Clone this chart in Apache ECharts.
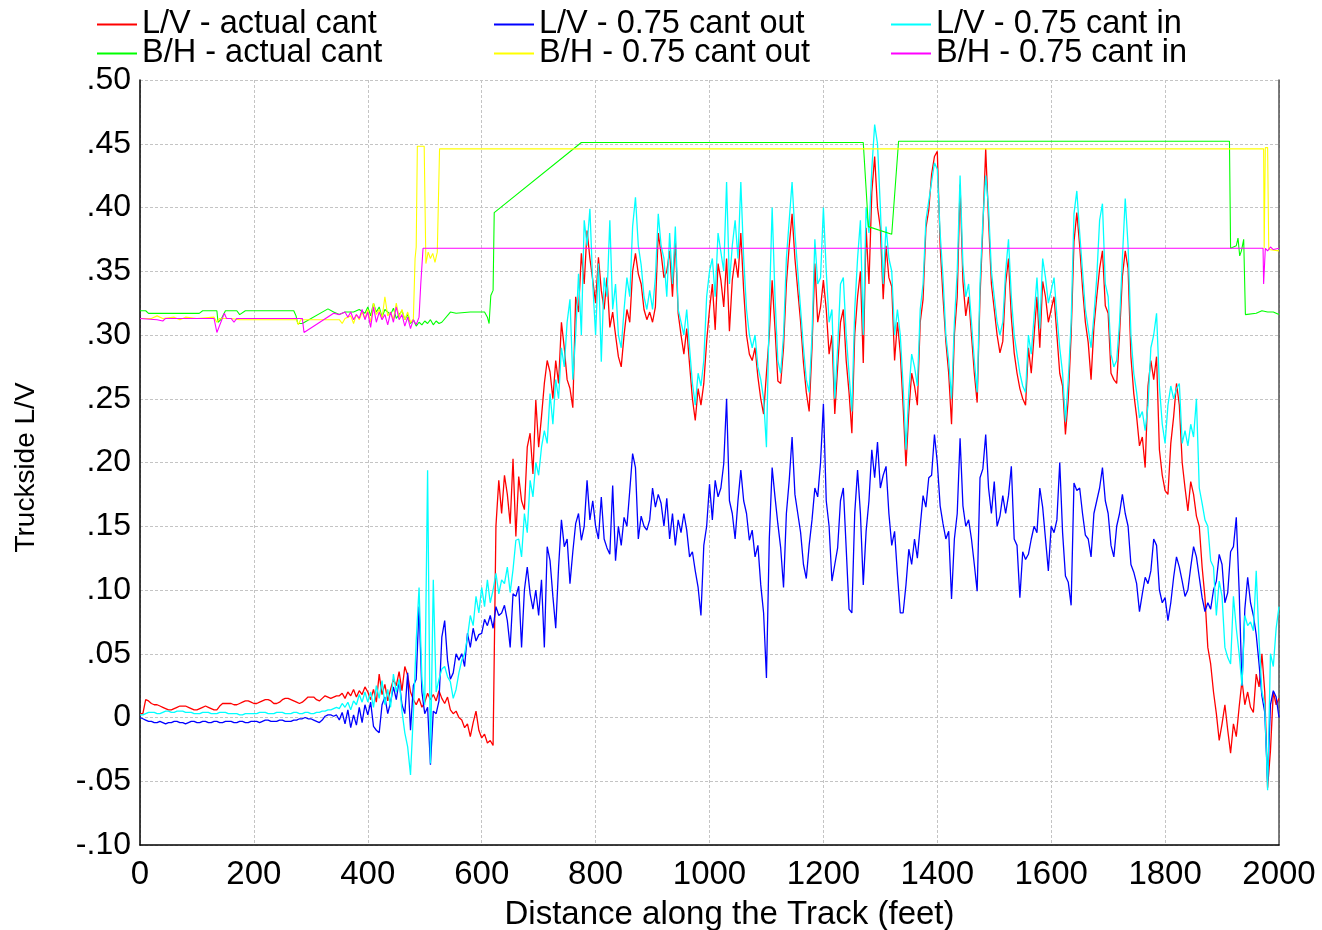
<!DOCTYPE html>
<html>
<head>
<meta charset="utf-8">
<title>Truckside L/V and B/H along the track</title>
<script src="https://cdn.jsdelivr.net/npm/echarts@6/dist/echarts.min.js"></script>
<style>
  html, body { margin: 0; padding: 0; background: #ffffff; }
  #chart { width: 1322px; height: 930px; }
</style>
</head>
<body>
<div id="chart"></div>
<script>
// Sample spacing (feet) of the L/V traces
const STEP = 5;

// L/V - actual cant, one value every 5 ft from 0 to 2000 ft
const lvActual = [
  0.003,0.003,0.014,0.013,0.011,0.010,0.010,0.009,0.008,0.007,0.006,0.006,0.007,0.008,0.009,0.009,0.009,0.008,0.007,0.006,
  0.006,0.007,0.008,0.009,0.008,0.007,0.006,0.006,0.009,0.011,0.011,0.011,0.011,0.010,0.010,0.011,0.012,0.013,0.013,0.012,
  0.011,0.011,0.012,0.013,0.014,0.014,0.013,0.011,0.011,0.012,0.014,0.015,0.015,0.014,0.013,0.012,0.011,0.012,0.014,0.016,
  0.016,0.016,0.014,0.013,0.015,0.017,0.016,0.015,0.016,0.017,0.017,0.019,0.015,0.020,0.017,0.022,0.016,0.021,0.018,0.024,
  0.020,0.014,0.022,0.012,0.034,0.018,0.026,0.013,0.022,0.030,0.025,0.036,0.021,0.040,0.033,0.020,0.014,0.010,0.015,0.008,
  0.012,0.019,0.014,0.018,0.013,0.021,0.015,0.011,0.016,0.006,0.003,0.005,0.000,-0.002,-0.008,-0.005,-0.015,-0.004,0.005,-0.010,
  -0.016,-0.013,-0.020,-0.018,-0.022,0.150,0.186,0.160,0.190,0.175,0.152,0.203,0.142,0.189,0.170,0.163,0.212,0.223,0.191,0.249,
  0.212,0.236,0.262,0.280,0.271,0.250,0.280,0.262,0.310,0.290,0.265,0.258,0.243,0.330,0.318,0.364,0.340,0.382,0.360,0.343,
  0.325,0.361,0.335,0.320,0.345,0.306,0.318,0.300,0.283,0.275,0.300,0.320,0.310,0.350,0.364,0.348,0.340,0.320,0.312,0.318,
  0.310,0.322,0.380,0.364,0.345,0.350,0.366,0.330,0.375,0.317,0.300,0.285,0.305,0.277,0.250,0.233,0.258,0.245,0.262,0.295,
  0.320,0.340,0.304,0.356,0.343,0.322,0.360,0.303,0.343,0.360,0.345,0.380,0.335,0.300,0.285,0.280,0.290,0.267,0.250,0.238,
  0.270,0.300,0.343,0.305,0.264,0.262,0.290,0.340,0.370,0.395,0.360,0.335,0.310,0.278,0.255,0.240,0.290,0.356,0.310,0.322,
  0.343,0.320,0.285,0.300,0.238,0.275,0.310,0.320,0.280,0.255,0.223,0.300,0.330,0.350,0.278,0.384,0.340,0.412,0.440,0.400,
  0.384,0.328,0.370,0.345,0.338,0.280,0.310,0.286,0.244,0.197,0.240,0.270,0.260,0.245,0.310,0.328,0.384,0.398,0.426,0.440,
  0.444,0.370,0.330,0.295,0.270,0.230,0.300,0.330,0.418,0.342,0.315,0.330,0.300,0.270,0.247,0.330,0.384,0.446,0.390,0.340,
  0.320,0.300,0.286,0.295,0.340,0.360,0.314,0.286,0.270,0.258,0.250,0.245,0.290,0.270,0.300,0.330,0.290,0.342,0.330,0.310,
  0.320,0.330,0.300,0.270,0.260,0.222,0.250,0.300,0.373,0.396,0.370,0.337,0.310,0.294,0.265,0.306,0.330,0.352,0.366,0.323,
  0.317,0.270,0.265,0.262,0.300,0.346,0.366,0.352,0.283,0.254,0.236,0.213,0.220,0.196,0.260,0.280,0.265,0.283,0.210,0.190,
  0.178,0.175,0.215,0.236,0.262,0.245,0.200,0.180,0.162,0.185,0.175,0.158,0.150,0.118,0.094,0.055,0.042,0.020,0.003,-0.018,
  -0.005,0.010,-0.010,-0.028,-0.005,-0.015,0.008,0.029,0.010,0.020,0.008,0.004,0.034,0.024,0.050,0.020,-0.055,-0.026,0.020,0.010,
  0.015
];

// L/V - 0.75 cant out
const lvCantOut = [
  0.000,-0.001,-0.002,-0.003,-0.003,-0.004,-0.004,-0.003,-0.004,-0.005,-0.004,-0.004,-0.003,-0.003,-0.004,-0.004,-0.005,-0.004,-0.003,-0.003,
  -0.004,-0.004,-0.003,-0.003,-0.004,-0.004,-0.003,-0.003,-0.004,-0.004,-0.003,-0.003,-0.003,-0.004,-0.004,-0.003,-0.003,-0.004,-0.004,-0.003,
  -0.003,-0.003,-0.004,-0.003,-0.002,-0.002,-0.003,-0.003,-0.003,-0.002,-0.002,-0.003,-0.003,-0.003,-0.002,-0.002,-0.001,-0.001,0.000,-0.001,
  -0.001,-0.002,-0.003,-0.004,-0.002,0.001,0.002,0.002,0.001,0.002,-0.002,0.004,-0.005,0.006,-0.008,0.002,-0.006,0.008,-0.004,0.010,
  0.002,0.012,-0.007,-0.010,-0.012,0.010,0.016,0.003,0.012,0.024,0.014,0.029,0.010,0.003,0.035,-0.010,0.025,0.030,0.087,0.020,
  0.003,0.008,-0.037,0.005,0.003,0.013,0.063,0.076,0.045,0.030,0.035,0.050,0.045,0.050,0.040,0.066,0.055,0.070,0.060,0.065,
  0.066,0.077,0.072,0.080,0.070,0.087,0.080,0.082,0.088,0.076,0.055,0.097,0.095,0.103,0.055,0.100,0.118,0.097,0.085,0.100,
  0.080,0.108,0.055,0.134,0.123,0.095,0.070,0.118,0.155,0.134,0.140,0.105,0.130,0.152,0.160,0.139,0.150,0.186,0.155,0.170,
  0.150,0.140,0.173,0.140,0.133,0.128,0.182,0.123,0.150,0.135,0.157,0.150,0.178,0.207,0.196,0.140,0.158,0.150,0.147,0.155,
  0.180,0.165,0.175,0.168,0.150,0.172,0.140,0.160,0.135,0.155,0.145,0.160,0.147,0.126,0.130,0.115,0.102,0.080,0.135,0.150,
  0.183,0.155,0.186,0.173,0.180,0.199,0.250,0.170,0.160,0.140,0.170,0.194,0.170,0.160,0.139,0.147,0.126,0.135,0.104,0.082,
  0.031,0.140,0.196,0.173,0.152,0.133,0.102,0.160,0.186,0.220,0.175,0.160,0.145,0.120,0.109,0.135,0.155,0.180,0.173,0.200,
  0.246,0.170,0.150,0.107,0.120,0.133,0.170,0.180,0.133,0.085,0.082,0.160,0.194,0.160,0.104,0.146,0.170,0.210,0.188,0.216,
  0.180,0.190,0.197,0.160,0.135,0.146,0.112,0.082,0.082,0.104,0.132,0.120,0.140,0.125,0.150,0.174,0.165,0.188,0.190,0.222,
  0.200,0.166,0.152,0.140,0.146,0.093,0.140,0.160,0.219,0.166,0.150,0.155,0.140,0.120,0.099,0.188,0.195,0.222,0.180,0.160,
  0.185,0.150,0.158,0.174,0.160,0.174,0.197,0.140,0.135,0.094,0.130,0.124,0.128,0.140,0.150,0.145,0.180,0.165,0.140,0.115,
  0.150,0.145,0.155,0.200,0.145,0.111,0.106,0.088,0.184,0.178,0.180,0.160,0.143,0.140,0.126,0.160,0.170,0.180,0.196,0.170,
  0.160,0.135,0.126,0.150,0.160,0.175,0.160,0.150,0.120,0.114,0.105,0.083,0.097,0.110,0.105,0.115,0.140,0.135,0.100,0.090,
  0.094,0.076,0.090,0.110,0.126,0.118,0.107,0.095,0.100,0.118,0.134,0.126,0.110,0.094,0.083,0.090,0.085,0.100,0.107,0.128,
  0.120,0.090,0.098,0.130,0.134,0.157,0.100,0.025,0.085,0.110,0.090,0.080,0.065,0.042,0.017,0.004,-0.050,0.010,0.021,0.016,
  0.000
];

// L/V - 0.75 cant in
const lvCantIn = [
  0.002,0.002,0.003,0.004,0.004,0.004,0.003,0.003,0.004,0.005,0.005,0.004,0.004,0.005,0.005,0.005,0.004,0.004,0.004,0.003,
  0.003,0.003,0.004,0.004,0.004,0.003,0.003,0.003,0.004,0.004,0.004,0.003,0.003,0.003,0.003,0.002,0.002,0.003,0.003,0.003,
  0.003,0.003,0.004,0.004,0.004,0.003,0.003,0.003,0.004,0.004,0.004,0.003,0.003,0.003,0.004,0.004,0.003,0.003,0.004,0.004,
  0.003,0.003,0.004,0.004,0.005,0.005,0.006,0.006,0.007,0.008,0.007,0.011,0.008,0.012,0.006,0.013,0.010,0.018,0.012,0.020,
  0.012,0.020,0.008,0.025,0.015,0.029,0.010,0.022,0.008,0.034,0.020,0.030,0.005,-0.012,-0.023,-0.045,0.003,0.060,0.102,0.030,
  0.010,0.194,-0.036,0.108,0.020,0.030,0.038,0.040,0.032,0.028,0.015,0.022,0.035,0.045,0.050,0.063,0.080,0.072,0.095,0.082,
  0.102,0.087,0.108,0.090,0.100,0.113,0.097,0.108,0.105,0.118,0.098,0.116,0.139,0.140,0.126,0.160,0.145,0.186,0.173,0.200,
  0.190,0.212,0.225,0.215,0.254,0.230,0.265,0.250,0.290,0.275,0.310,0.328,0.265,0.300,0.348,0.300,0.390,0.370,0.399,0.340,
  0.300,0.356,0.279,0.345,0.330,0.390,0.320,0.340,0.300,0.290,0.320,0.345,0.330,0.385,0.408,0.370,0.355,0.330,0.320,0.335,
  0.320,0.345,0.395,0.370,0.360,0.330,0.380,0.340,0.385,0.320,0.310,0.300,0.320,0.290,0.262,0.245,0.270,0.260,0.280,0.330,
  0.350,0.360,0.330,0.380,0.365,0.350,0.420,0.340,0.370,0.390,0.360,0.420,0.360,0.320,0.300,0.290,0.300,0.275,0.265,0.250,
  0.212,0.320,0.400,0.330,0.280,0.270,0.300,0.360,0.390,0.420,0.380,0.350,0.320,0.290,0.265,0.255,0.300,0.375,0.340,0.345,
  0.400,0.350,0.310,0.320,0.250,0.290,0.340,0.345,0.300,0.270,0.240,0.320,0.360,0.390,0.300,0.400,0.380,0.430,0.465,0.450,
  0.400,0.340,0.385,0.360,0.350,0.300,0.320,0.300,0.260,0.210,0.255,0.285,0.275,0.260,0.320,0.340,0.390,0.405,0.420,0.435,
  0.430,0.380,0.345,0.300,0.280,0.250,0.310,0.350,0.425,0.355,0.330,0.340,0.310,0.280,0.255,0.340,0.390,0.425,0.400,0.350,
  0.330,0.310,0.300,0.310,0.350,0.375,0.330,0.300,0.285,0.270,0.260,0.255,0.300,0.285,0.315,0.345,0.305,0.360,0.345,0.325,
  0.335,0.345,0.315,0.290,0.270,0.232,0.265,0.310,0.395,0.413,0.380,0.350,0.320,0.305,0.290,0.315,0.345,0.390,0.403,0.340,
  0.330,0.285,0.275,0.280,0.310,0.360,0.407,0.370,0.300,0.270,0.255,0.235,0.240,0.225,0.245,0.290,0.300,0.317,0.260,0.230,
  0.215,0.245,0.260,0.250,0.258,0.262,0.215,0.225,0.213,0.230,0.220,0.250,0.180,0.168,0.155,0.150,0.123,0.118,0.080,0.107,
  0.095,0.055,0.047,0.042,0.095,0.070,0.050,0.025,0.080,0.072,0.075,0.068,0.115,0.060,0.020,0.010,-0.057,0.050,0.040,0.070,
  0.087
];

// B/H - actual cant, [distance ft, value]
const bhActual = [
  [0,0.319],[10,0.319],[15,0.317],[104,0.317],[110,0.319],[135,0.319],[137,0.310],[142,0.312],[150,0.319],[170,0.319],
  [175,0.316],[185,0.319],[270,0.319],[274,0.315],[277,0.309],[285,0.309],[330,0.3205],[340,0.318],[350,0.316],[360,0.318],
  [375,0.318],[385,0.320],[395,0.317],[400,0.322],[405,0.315],[410,0.325],[415,0.318],[420,0.322],[425,0.314],[430,0.320],
  [440,0.316],[445,0.321],[450,0.313],[460,0.319],[465,0.312],[470,0.316],[475,0.309],[480,0.312],[485,0.307],[490,0.310],
  [495,0.308],[500,0.311],[505,0.309],[510,0.312],[515,0.308],[520,0.311],[525,0.309],[530,0.310],[545,0.318],[555,0.317],
  [580,0.318],[605,0.318],[610,0.314],[613,0.309],[616,0.331],[620,0.335],[622,0.396],[775,0.451],[1270,0.451],[1279,0.385],
  [1320,0.379],[1332,0.452],[1913,0.452],[1915,0.368],[1925,0.370],[1928,0.376],[1931,0.362],[1934,0.366],[1938,0.375],[1941,0.316],
  [1960,0.317],[1970,0.319],[1980,0.318],[1990,0.318],[2000,0.316]
];

// B/H - 0.75 cant out
const bhCantOut = [
  [0,0.313],[20,0.313],[30,0.315],[40,0.313],[60,0.314],[70,0.312],[80,0.314],[100,0.313],[130,0.314],[135,0.310],
  [140,0.313],[160,0.313],[175,0.312],[275,0.312],[278,0.308],[282,0.312],[350,0.312],[355,0.309],[360,0.313],[370,0.315],
  [375,0.309],[380,0.316],[385,0.312],[390,0.318],[395,0.313],[400,0.320],[405,0.310],[410,0.325],[415,0.316],[420,0.320],
  [425,0.313],[430,0.330],[435,0.315],[440,0.318],[445,0.312],[450,0.325],[455,0.314],[460,0.320],[465,0.312],[470,0.318],
  [475,0.310],[480,0.312],[483,0.360],[485,0.369],[487,0.448],[499,0.448],[502,0.356],[506,0.365],[510,0.360],[514,0.364],
  [518,0.357],[522,0.365],[526,0.446],[1973,0.446],[1974,0.368],[1976,0.447],[1980,0.447],[1982,0.367],[2000,0.366]
];

// B/H - 0.75 cant in
const bhCantIn = [
  [0,0.313],[30,0.312],[40,0.311],[45,0.313],[130,0.313],[135,0.302],[138,0.303],[148,0.317],[152,0.313],[160,0.313],
  [165,0.310],[170,0.313],[285,0.313],[288,0.302],[340,0.317],[350,0.316],[360,0.318],[365,0.314],[370,0.318],[375,0.312],
  [380,0.316],[385,0.313],[390,0.320],[395,0.312],[400,0.318],[405,0.306],[410,0.322],[415,0.310],[420,0.318],[425,0.312],
  [430,0.316],[435,0.308],[440,0.318],[445,0.310],[450,0.322],[455,0.312],[460,0.316],[465,0.307],[470,0.314],[475,0.305],
  [480,0.312],[485,0.308],[490,0.314],[493,0.340],[497,0.368],[1972,0.368],[1973,0.340],[1975,0.340],[1976,0.368],[1980,0.366],
  [1985,0.369],[1990,0.367],[2000,0.368]
];

const seriesNames = [
  'L/V - actual cant', 'L/V - 0.75 cant out', 'L/V - 0.75 cant in',
  'B/H - actual cant', 'B/H - 0.75 cant out', 'B/H - 0.75 cant in'
];
const seriesColors = ['#ff0000', '#0000ff', '#00ffff', '#00ff00', '#ffff00', '#ff00ff'];

const xTicks = { min: 0, max: 2000, interval: 200 };
const yTicks = { min: -0.10, max: 0.50, interval: 0.05 };
const yTickLabels = ['-.10','-.05','0','.05','.10','.15','.20','.25','.30','.35','.40','.45','.50'];

const FONT = '"Liberation Sans", Arial, sans-serif';

const sampled = arr => arr.map((v, i) => [i * STEP, v]);

const lineSeries = (name, color, data, z, width) => ({
  name, type: 'line', data, z,
  showSymbol: false, symbol: 'none',
  lineStyle: { color, width },
  itemStyle: { color },
  emphasis: { disabled: true },
  animation: false
});

// one legend entry per box, laid out in a 3 x 2 table
const legendCols = [92, 489, 886];
const legendRows = [3, 32];
const legendBox = (idx) => ({
  orient: 'horizontal',
  left: legendCols[idx % 3], top: legendRows[Math.floor(idx / 3)],
  data: [seriesNames[idx]],
  icon: 'rect', itemWidth: 40, itemHeight: 2,
  selectedMode: false,
  textStyle: { fontFamily: FONT, fontSize: 32.5, color: '#000' }
});

const chart = echarts.init(document.getElementById('chart'), null, { renderer: 'canvas' });
chart.setOption({
  backgroundColor: '#ffffff',
  animation: false,
  legend: [0, 1, 2, 3, 4, 5].map(legendBox),
  grid: { left: 140, right: 43, top: 80, bottom: 85, containLabel: false, outerBoundsMode: 'none' },
  xAxis: {
    type: 'value', min: xTicks.min, max: xTicks.max, interval: xTicks.interval,
    name: 'Distance along the Track (feet)', nameLocation: 'middle', nameGap: 53,
    nameTextStyle: { fontFamily: FONT, fontSize: 33, color: '#000', padding: [0, 0, 0, 40] },
    axisLine: { show: true, onZero: false, lineStyle: { color: '#000', width: 1.5 } },
    axisTick: { show: false },
    axisLabel: { fontFamily: FONT, fontSize: 33, color: '#000', margin: 13, formatter: v => String(v) },
    splitLine: { show: true, lineStyle: { color: '#c4c4c4', type: [3, 2], width: 1 } }
  },
  yAxis: [{
    type: 'value', min: yTicks.min, max: yTicks.max, interval: yTicks.interval,
    name: 'Truckside L/V', nameLocation: 'middle', nameGap: 100, nameRotate: 90,
    nameTextStyle: { fontFamily: FONT, fontSize: 28, color: '#000', padding: [0, 10, 0, 0] },
    axisLine: { show: true, onZero: false, lineStyle: { color: '#000', width: 1.5 } },
    axisTick: { show: false },
    axisLabel: {
      fontFamily: FONT, fontSize: 32, color: '#000', margin: 9,
      formatter: v => yTickLabels[Math.round((v - yTicks.min) / yTicks.interval)]
    },
    splitLine: { show: true, lineStyle: { color: '#c4c4c4', type: [3, 2], width: 1 } }
  }, {
    type: 'value', position: 'right', min: yTicks.min, max: yTicks.max, interval: yTicks.interval,
    axisLine: { show: true, onZero: false, lineStyle: { color: '#505050', width: 1.5 } },
    axisTick: { show: false }, axisLabel: { show: false }, splitLine: { show: false }
  }],
  series: [
    lineSeries(seriesNames[0], seriesColors[0], sampled(lvActual), 2, 1.3),
    lineSeries(seriesNames[1], seriesColors[1], sampled(lvCantOut), 3, 1.3),
    lineSeries(seriesNames[2], seriesColors[2], sampled(lvCantIn), 4, 1.3),
    lineSeries(seriesNames[3], seriesColors[3], bhActual, 5, 1.1),
    lineSeries(seriesNames[4], seriesColors[4], bhCantOut, 6, 1.1),
    lineSeries(seriesNames[5], seriesColors[5], bhCantIn, 7, 1.1)
  ]
});
</script>
</body>
</html>
